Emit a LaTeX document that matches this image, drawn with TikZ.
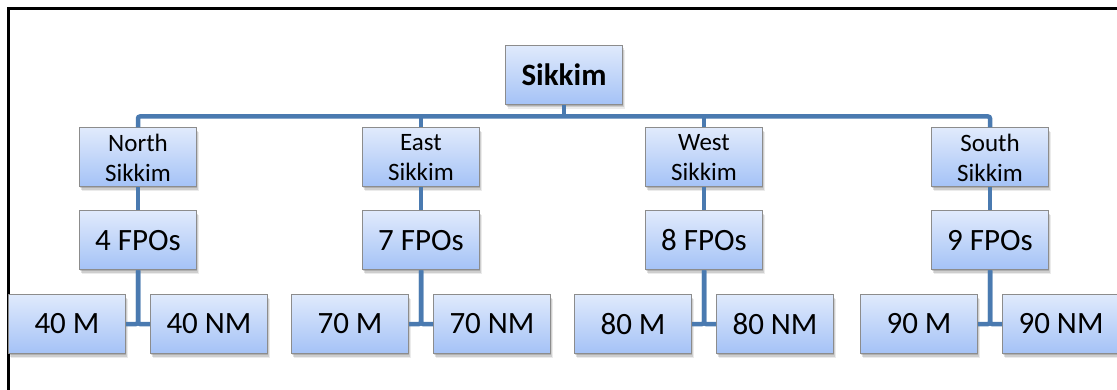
\documentclass[tikz,border=0pt]{standalone}
\usepackage{fontspec}
\setmainfont{Carlito}
\usetikzlibrary{shadows}
\definecolor{conncol}{RGB}{74,122,176}
\definecolor{boxtop}{RGB}{224,234,252}
\definecolor{boxbot}{RGB}{164,194,246}
\definecolor{boxline}{RGB}{140,140,140}
\tikzset{
  orgbox/.style={draw=boxline, line width=1pt, top color=boxtop, bottom color=boxbot,
    minimum width=117pt, minimum height=59pt, inner sep=0pt, align=center,
    drop shadow={shadow xshift=2.5pt, shadow yshift=-4.5pt, opacity=0.08, fill=black},
    drop shadow={shadow xshift=1.5pt, shadow yshift=-3pt, opacity=0.12, fill=black},
    drop shadow={shadow xshift=0.8pt, shadow yshift=-1.5pt, opacity=0.15, fill=black}},
  bigtext/.style={font=\fontsize{31}{37}\selectfont},
  regtext/.style={font=\fontsize{25}{30}\selectfont},
  conn/.style={draw=conncol, line width=4.5pt, rounded corners=2pt},
  frameline/.style={draw=black, line width=3pt}
}
\begin{document}
\begin{tikzpicture}[x=1pt, y=-1pt]
\useasboundingbox (0,0) rectangle (1117,390);
\coordinate (ftl) at (8.5,8.5);
\coordinate (ftr) at (1117,8.5);
\coordinate (fbl) at (8.5,390);
\draw[frameline] (ftr) -- (ftl) -- (fbl);

\path (564,75) coordinate (csik);
\foreach \c/\n in {138/n, 421/e, 704/w, 990/s} {
  \coordinate (r\n) at (\c,157.5);
  \coordinate (f\n) at (\c,240.5);
}
\node[orgbox, font=\fontsize{31}{37}\selectfont\bfseries] (sik) at (csik) {Sikkim};

\node[orgbox, regtext] (regn) at (rn) {North\\Sikkim};
\node[orgbox, regtext] (rege) at (re) {East\\Sikkim};
\node[orgbox, regtext] (regw) at (rw) {West\\Sikkim};
\node[orgbox, regtext] (regs) at (rs) {South\\Sikkim};

\node[orgbox, bigtext] (fpon) at (fn) {4 FPOs};
\node[orgbox, bigtext] (fpoe) at (fe) {7 FPOs};
\node[orgbox, bigtext] (fpow) at (fw) {8 FPOs};
\node[orgbox, bigtext] (fpos) at (fs) {9 FPOs};

\node[orgbox, bigtext] (mn) at (67,324) {40 M};
\node[orgbox, bigtext] (nmn) at (209,324) {40 NM};
\node[orgbox, bigtext] (me) at (350,324) {70 M};
\node[orgbox, bigtext] (nme) at (492,324) {70 NM};
\node[orgbox, bigtext] (mw) at (633,324) {80 M};
\node[orgbox, bigtext] (nmw) at (775,324) {80 NM};
\node[orgbox, bigtext] (ms) at (919,324) {90 M};
\node[orgbox, bigtext] (nms) at (1061,324) {90 NM};

\draw[conn] (regn.north) -- ++(0,-11) -| (regs.north);
\draw[conn] (sik.south) -- ++(0,13);
\draw[conn] (rege.north) -- ++(0,-11);
\draw[conn] (regw.north) -- ++(0,-11);
\foreach \n in {n,e,w,s} {
  \draw[conn] (reg\n.south) -- (fpo\n.north);
  \draw[conn] (fpo\n.south) |- (m\n.east);
  \draw[conn] (fpo\n.south) |- (nm\n.west);
}
\end{tikzpicture}
\end{document}
